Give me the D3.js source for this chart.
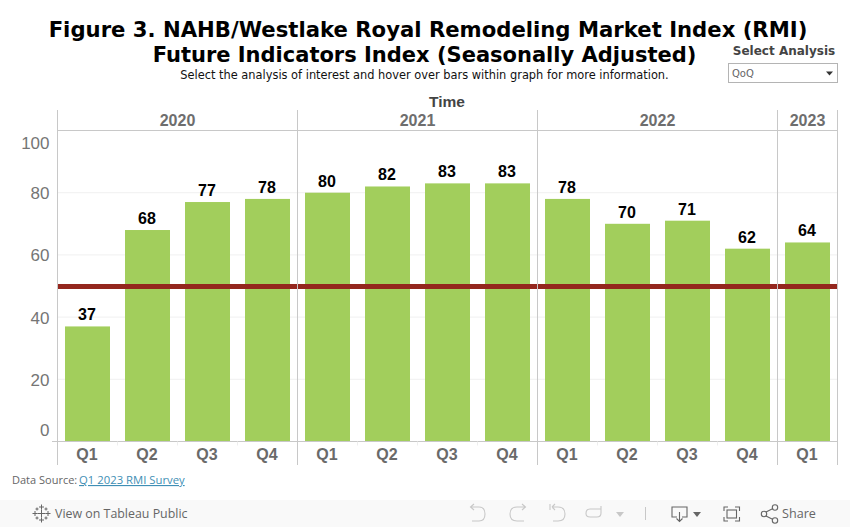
<!DOCTYPE html>
<html>
<head>
<meta charset="utf-8">
<script src="https://cdn.jsdelivr.net/npm/d3@7"></script>
<style>
html, body { margin: 0; padding: 0; background: #fff; overflow: hidden; }
svg { display: block; }
</style>
</head>
<body>
<svg id="chart" width="850" height="527"></svg>
<script>
const years = ['2020', '2021', '2022', '2023']
const quarters = ['Q1', 'Q2', 'Q3', 'Q4', 'Q1', 'Q2', 'Q3', 'Q4', 'Q1', 'Q2', 'Q3', 'Q4', 'Q1']
const yearOf = ['2020', '2020', '2020', '2020', '2021', '2021', '2021', '2021', '2022', '2022', '2022', '2022', '2023']
const values = [37, 68, 77, 78, 80, 82, 83, 83, 78, 70, 71, 62, 64]
const yTicks = [0, 20, 40, 60, 80, 100]
const refValue = 50

const SANS = '"DejaVu Sans", sans-serif'
const ARIAL = '"Liberation Sans", Arial, sans-serif'
const LINE = '#c8c8c8'

const svg = d3.select('#chart')

const left = 57.5
const right = 837.5
const headTop = 110
const plotTop = 130.5
const plotBottom = 441.5
const axisBottom = 465

const keys = values.map((d, i) => i)
const x = d3.scaleBand().domain(keys).range([left, right]).paddingInner(0.25).paddingOuter(0.125)
const y = d3.scaleLinear().domain([0, 100]).range([plotBottom, plotTop])

function text(sel, str, px, py, size, weight, color, family, anchor) {
	return sel.append('text')
		.attr('x', px)
		.attr('y', py)
		.attr('font-size', size)
		.attr('font-weight', weight)
		.attr('fill', color)
		.attr('font-family', family)
		.attr('text-anchor', anchor || 'middle')
		.text(str)
}

// titles
text(svg, 'Figure 3. NAHB/Westlake Royal Remodeling Market Index (RMI)', 428, 37, 21.2, 700, '#000', SANS)
text(svg, 'Future Indicators Index (Seasonally Adjusted)', 424.5, 62, 21, 700, '#000', SANS)
text(svg, 'Select the analysis of interest and hover over bars within graph for more information.', 424.5, 79, 11.4, 400, '#111', SANS)

// filter control
text(svg, 'Select Analysis', 784, 55, 12, 700, '#444', SANS)
svg.append('rect').attr('x', 728.5).attr('y', 63.5).attr('width', 109).attr('height', 19)
	.attr('fill', '#fff').attr('stroke', '#b4b4b4')
text(svg, 'QoQ', 732, 77, 10, 400, '#666', SANS, 'start')
svg.append('path').attr('d', d3.line()([[826, 71.5], [833, 71.5], [829.5, 75.5]])).attr('fill', '#333')

// faint gridlines
svg.append('g').selectAll('line').data(yTicks.filter(d => d > 0 && d < 100)).join('line')
	.attr('x1', left).attr('x2', right)
	.attr('y1', d => y(d)).attr('y2', d => y(d))
	.attr('stroke', '#f0f0f0')

// bars
svg.append('g').selectAll('rect').data(values).join('rect')
	.attr('x', (d, i) => x(i))
	.attr('width', x.bandwidth())
	.attr('y', d => y(d))
	.attr('height', d => plotBottom - y(d))
	.attr('fill', '#a2ce5c')

// bar labels
svg.append('g').selectAll('text').data(values).join('text')
	.attr('x', (d, i) => x(i) + x.bandwidth() / 2 - 0.5)
	.attr('y', d => y(d) - 6)
	.attr('text-anchor', 'middle')
	.attr('font-family', ARIAL)
	.attr('font-size', 16)
	.attr('font-weight', 700)
	.attr('fill', '#000')
	.text(d => d)

// headers and axis frame
const step = x.step()
const yearStart = year => left + yearOf.indexOf(year) * step
const yearEnd = year => yearStart(year) + yearOf.filter(d => d === year).length * step

// reference line, one piece per year pane
svg.append('g').selectAll('line').data(years).join('line')
	.attr('x1', d => yearStart(d) + 0.5).attr('x2', d => yearEnd(d) - 0.5)
	.attr('y1', y(refValue) + 0.5).attr('y2', y(refValue) + 0.5)
	.attr('stroke', '#94271e').attr('stroke-width', 5)

const frame = svg.append('g').attr('stroke', LINE).attr('fill', 'none')
frame.append('line').attr('x1', left).attr('x2', right).attr('y1', plotTop).attr('y2', plotTop)
frame.append('line').attr('x1', 52).attr('x2', right).attr('y1', plotBottom).attr('y2', plotBottom)
frame.append('line').attr('x1', right).attr('x2', right).attr('y1', headTop).attr('y2', axisBottom)
frame.selectAll('.tick').data(keys.slice(1)).join('line')
	.attr('class', 'tick')
	.attr('x1', d => left + d * step).attr('x2', d => left + d * step)
	.attr('y1', plotBottom).attr('y2', plotBottom + 4)
	.attr('stroke', '#eee')
frame.selectAll('.sep').data(years).join('line')
	.attr('class', 'sep')
	.attr('x1', d => yearStart(d)).attr('x2', d => yearStart(d))
	.attr('y1', headTop).attr('y2', axisBottom)

text(svg, 'Time', 447, 107, 15.5, 700, '#444', ARIAL)

years.forEach(year => {
	text(svg, year, (yearStart(year) + yearEnd(year)) / 2, 126, 16, 700, '#6e6e6e', ARIAL)
})

svg.append('g').selectAll('text').data(quarters).join('text')
	.attr('x', (d, i) => x(i) + x.bandwidth() / 2 - 0.5)
	.attr('y', 460)
	.attr('text-anchor', 'middle')
	.attr('font-family', ARIAL)
	.attr('font-size', 16)
	.attr('font-weight', 700)
	.attr('fill', '#6a6a6a')
	.text(d => d)

// y tick labels, the end ones sit inside the plot range
svg.append('g').selectAll('text').data(yTicks).join('text')
	.attr('x', 49.5)
	.attr('y', d => y(d) + (d === 0 ? -6 : d === 100 ? 18 : 6.5))
	.attr('text-anchor', 'end')
	.attr('font-family', ARIAL)
	.attr('font-size', 17)
	.attr('fill', '#757575')
	.text(d => d)

// data source
const source = text(svg, 'Data Source: ', 12, 484, 11, 400, '#666', '"Open Sans", sans-serif', 'start')
source.append('tspan').attr('dx', -1).attr('fill', '#3f8fb5').attr('font-size', 11.3).attr('text-decoration', 'underline').text('Q1 2023 RMI Survey')

// toolbar
svg.append('rect').attr('x', 0).attr('y', 500).attr('width', 850).attr('height', 27).attr('fill', '#f9f9f9')
text(svg, 'View on Tableau Public', 55, 518, 12.4, 400, '#666', '"Open Sans", sans-serif', 'start')
text(svg, 'Share', 782, 518, 12.6, 400, '#666', '"Open Sans", sans-serif', 'start')

const logo = svg.append('g').attr('stroke', '#666').attr('stroke-width', 1).attr('fill', 'none')
const logoCross = [[41.5, 513.5, 4], [41.5, 507, 2.5], [41.5, 520, 2.5], [35, 513.5, 2.5], [48, 513.5, 2.5], [37, 509, 1.5], [46, 509, 1.5], [37, 518, 1.5], [46, 518, 1.5]]
logoCross.forEach(([cx, cy, r]) => {
	logo.append('path').attr('d', `M${cx - r} ${cy}H${cx + r}M${cx} ${cy - r}V${cy + r}`)
})

const icons = svg.append('g').attr('fill', 'none').attr('stroke-width', 1.1)
// undo, redo, revert, refresh
icons.append('path').attr('stroke', '#c8c8c8').attr('d', 'M471 507H479Q485 507 485 514Q485 521 479 521H472M474 504L470.5 507L474 510')
icons.append('path').attr('stroke', '#c8c8c8').attr('d', 'M525 507H517Q510 507 510 514Q510 521 517 521H524M522 504L525.5 507L522 510')
icons.append('path').attr('stroke', '#c8c8c8').attr('d', 'M552 507H558Q565 507 565 514Q565 521 558 521H553M552 507L555 504M552 507L555 510M550 504V510')
icons.append('path').attr('stroke', '#c8c8c8').attr('d', 'M601 509H590Q586 509 586 513.5Q586 517 590 517H597Q601 517 601 513V506')
svg.append('path').attr('fill', '#c8c8c8').attr('d', 'M616 512H624L620 517Z')
svg.append('line').attr('x1', 645.5).attr('x2', 645.5).attr('y1', 507).attr('y2', 520).attr('stroke', '#c8c8c8')
// download
icons.append('path').attr('stroke', '#666').attr('d', 'M677 517H672V507H687V517H682M679.5 512V521M676.5 518.5L679.5 521.5L682.5 518.5')
svg.append('path').attr('fill', '#666').attr('d', 'M693 512H701L697 517Z')
// fullscreen
icons.append('path').attr('stroke', '#666').attr('d', 'M724 511V507H728M735 507H739.5V511M739.5 517V521H735M728 521H724V517')
icons.append('rect').attr('stroke', '#666').attr('x', 727).attr('y', 510).attr('width', 9.5).attr('height', 8)
// share
icons.append('path').attr('stroke', '#666').attr('d', 'M766 512L773 508.5M766 516L773 519.5')
icons.selectAll('.node').data([[764, 514], [775, 507.5], [775, 520.5]]).join('circle')
	.attr('class', 'node').attr('stroke', '#666')
	.attr('cx', d => d[0]).attr('cy', d => d[1]).attr('r', 2.7)
</script>
</body>
</html>
